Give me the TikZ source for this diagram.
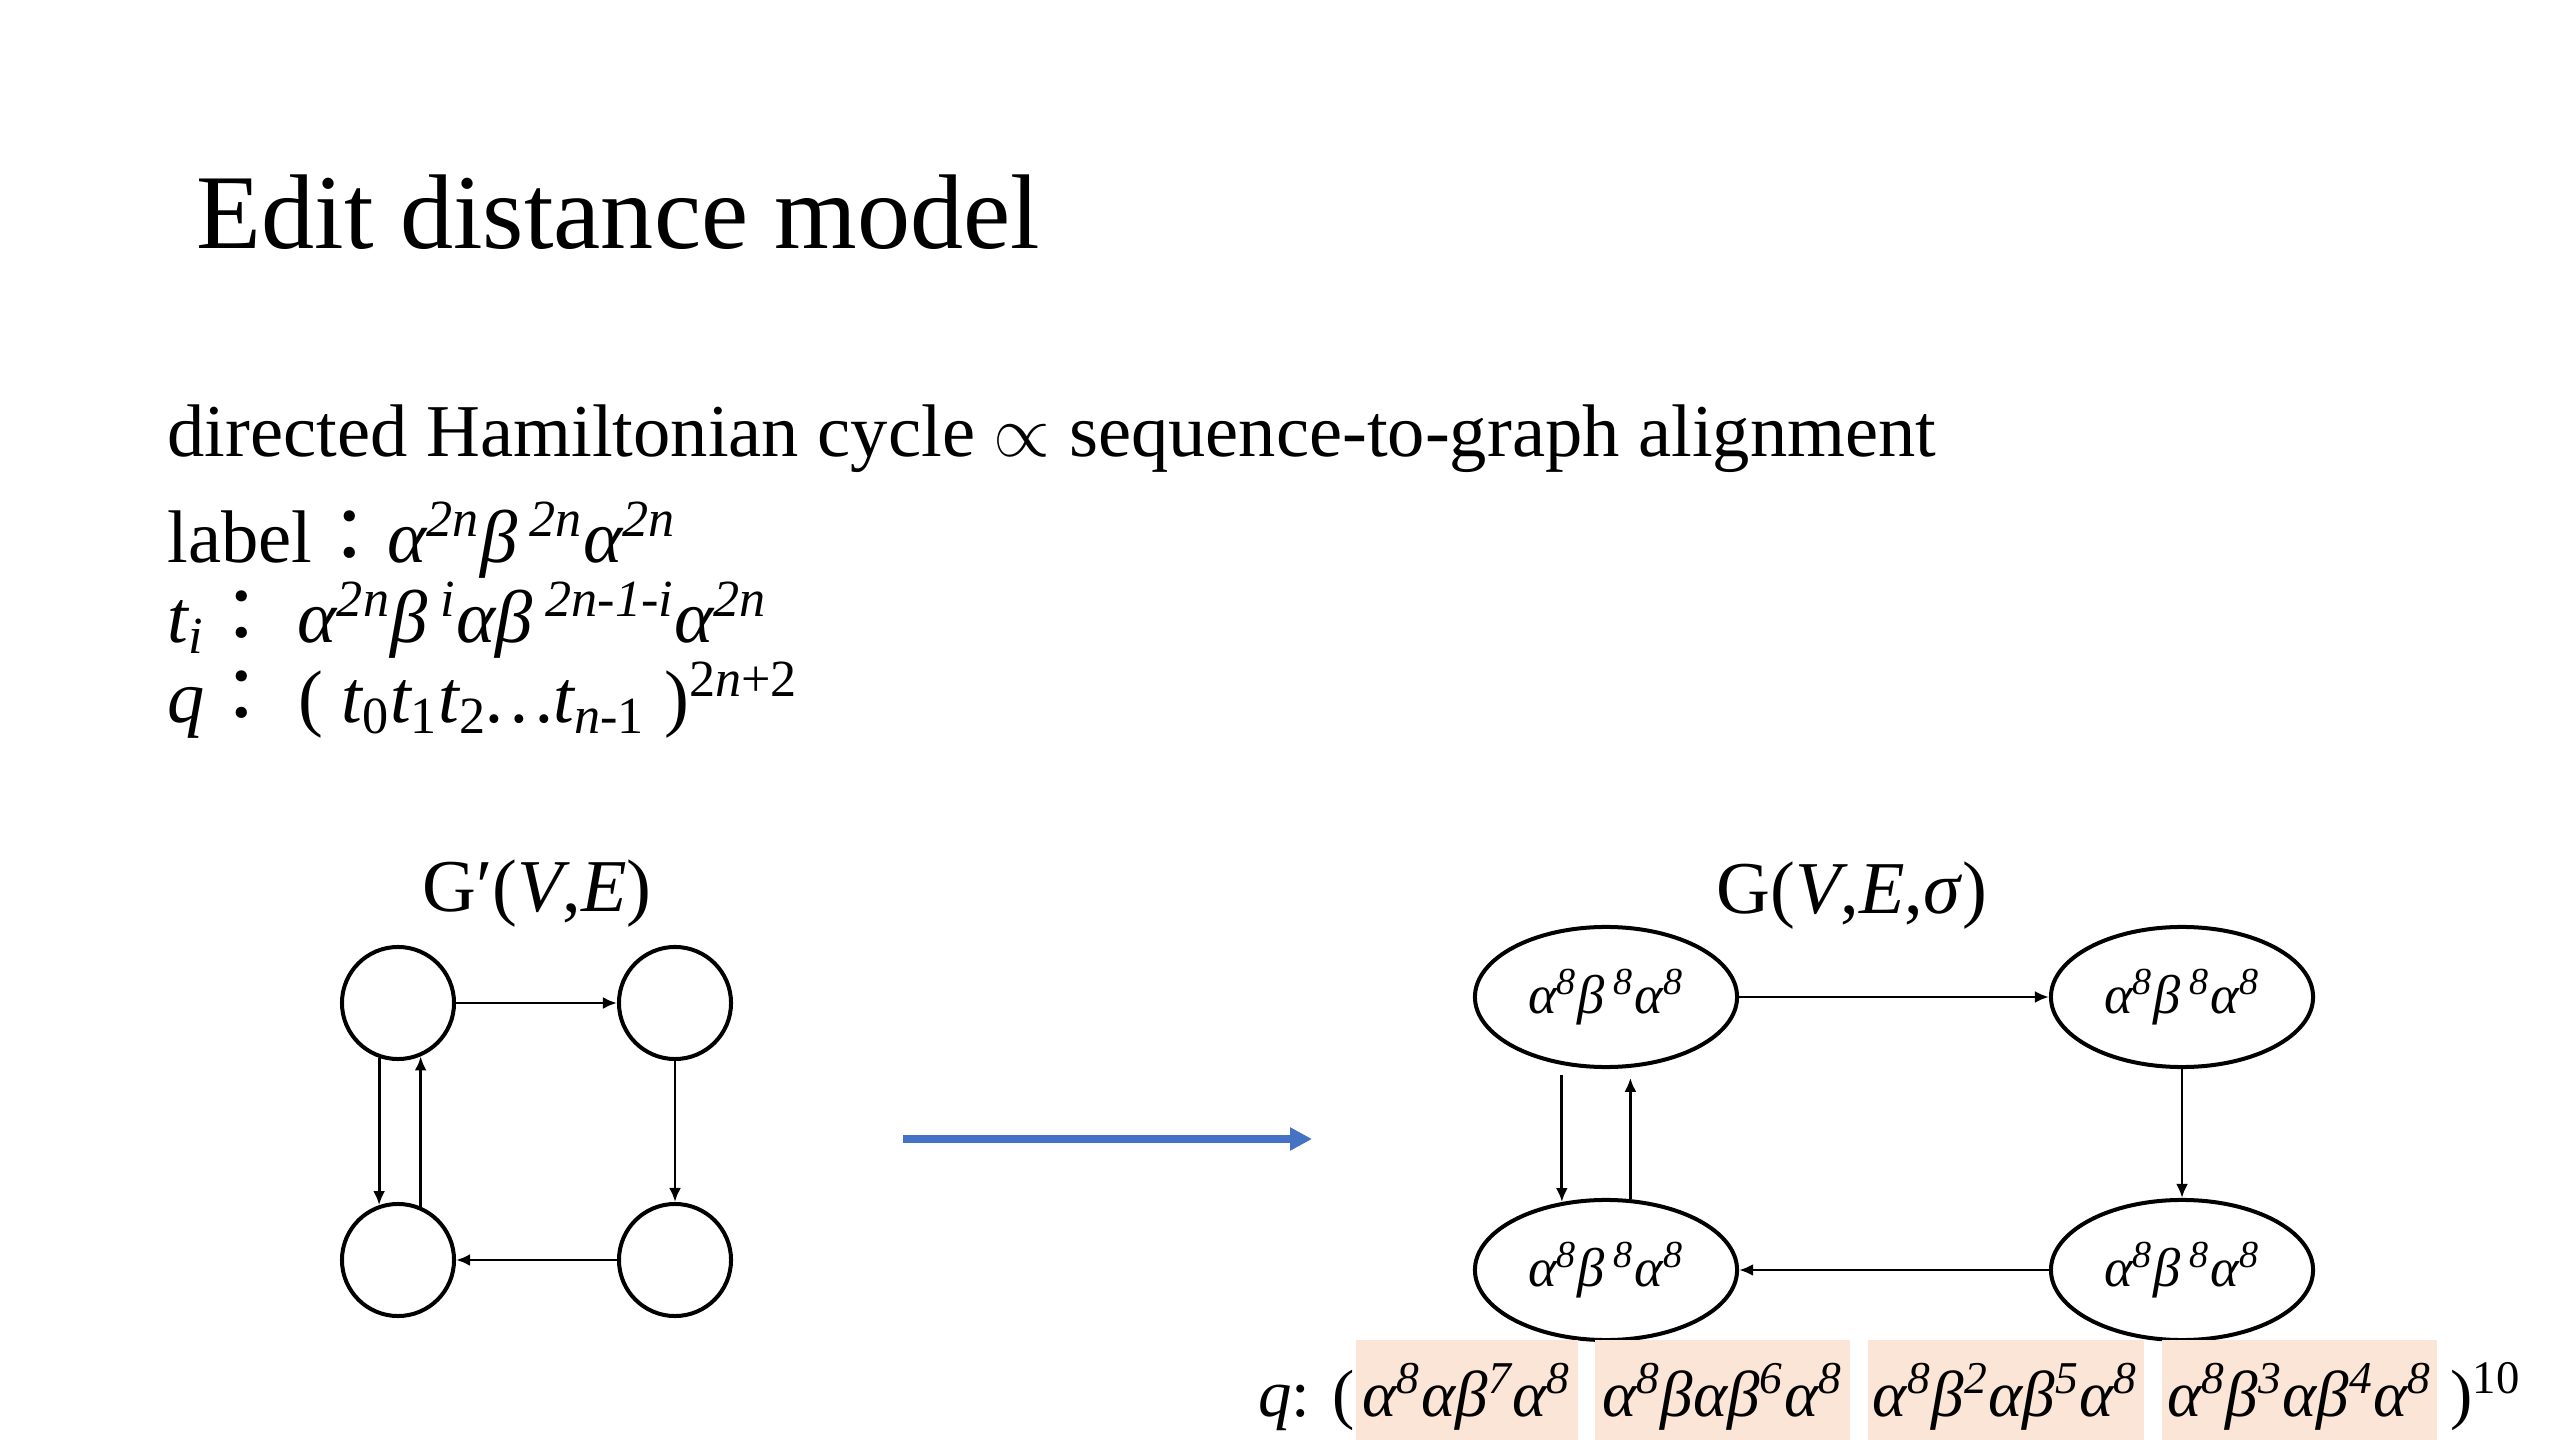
\documentclass[tikz,border=0pt]{standalone}
\usepackage{fontspec}
\setmainfont{Liberation Serif}
\newfontfamily\cjk{Noto Sans CJK TC}
\usetikzlibrary{arrows.meta,positioning,shapes.geometric}
\definecolor{slideblue}{HTML}{4472C4}
\definecolor{peach}{HTML}{FBE5D6}
\newcommand{\sps}[1]{\textsuperscript{#1}}
\newcommand{\sbs}[1]{\textsubscript{#1}}
\newcommand{\aba}{\textit{α\sps{8}β\,\sps{8}α\sps{8}}}

\begin{document}
\begin{tikzpicture}[x=0.01cm,y=-0.01cm,
  body/.style={anchor=base west,inner sep=0pt,font=\fontsize{21.2}{26}\selectfont},
  vtx/.style={circle,draw,line width=1.14pt,minimum size=1.12cm,inner sep=0pt},
  ell/.style={ellipse,draw,line width=1.14pt,minimum width=2.62cm,minimum height=1.40cm,
              inner sep=0pt,font=\fontsize{15.5}{18}\selectfont},
  arr/.style={line width=0.8pt,-{Latex[length=0.14cm,width=0.12cm]}},
  qbox/.style={fill=peach,inner xsep=0pt,text height=0.64cm,text depth=0.16cm,
               font=\fontsize{18.5}{22}\selectfont\itshape}]
  \useasboundingbox (0,0) rectangle (2560,1440);

  \node[anchor=base west,inner sep=0pt,font=\fontsize{30.2}{36}\selectfont] (title)
    at (196,249) {Edit distance model};

  \node[body] (red) at (167,457)
    {directed Hamiltonian cycle $\propto$ sequence-to-graph alignment};
  \node[body] (lbl) at (167,563)
    {label{\cjk：}\textit{α\sps{2n}β\,\sps{2n}α\sps{2n}}};
  \node[body] (tline) at (167,643)
    {\textit{t\sbs{i}}{\cjk：} \textit{α\sps{2n}β\,\sps{i}αβ\,\sps{2n-1-i}α\sps{2n}}};
  \node[body] (qline) at (167,723)
    {\textit{q}{\cjk：} ( \textit{t\sbs{\textup{0}}t\sbs{\textup{1}}t\sbs{\textup{2}}…t\sbs{n-\textup{1}}} )\sps{2\textit{n}+2}};

  % G'(V,E)
  \node[body,anchor=base] (gprime) at (537,912) {G′(\textit{V},\textit{E})};
  \node[vtx] (a1) at (398,1003) {};
  \node[vtx] (a2) at (675,1003) {};
  \node[vtx] (a3) at (675,1260) {};
  \node[vtx] (a4) at (398,1260) {};
  \draw[arr] (a1) -- (a2);
  \draw[arr] (a2) -- (a3);
  \draw[arr] (a3) -- (a4);
  \draw[arr] (a1.-109) -- (a4.109);
  \draw[arr] (a4.67) -- (a1.-67);

  \coordinate (bs) at (903,1139);
  \coordinate (be) at (1312,1139);
  \draw[slideblue,line width=2pt,-{Triangle[length=0.22cm,width=0.22cm]}] (bs) -- (be);

  % G(V,E,sigma)
  \node[body,anchor=base] (gfull) at (1852,913) {G(\textit{V},\textit{E},\textit{σ})};
  \node[ell] (b1) at (1606,997) {\aba};
  \node[ell] (b2) at (2182,997) {\aba};
  \node[ell] (b3) at (2182,1270) {\aba};
  \node[ell] (b4) at (1606,1270) {\aba};
  \draw[arr] (b1) -- (b2);
  \draw[arr] (b2) -- (b3);
  \draw[arr] (b3) -- (b4);
  \draw[arr,shorten <=0.1cm] (b1.-123) -- (b4.123);
  \draw[arr,shorten >=0.1cm] (b4.71) -- (b1.-71);

  \node[qbox,minimum width=2.21cm,anchor=base] (qb1) at (1467,1416)
    {α\sps{8}αβ\sps{7}α\sps{8}};
  \node[qbox,minimum width=2.55cm,base right=0.16cm of qb1] (qb2)
    {α\sps{8}βαβ\sps{6}α\sps{8}};
  \node[qbox,minimum width=2.76cm,base right=0.16cm of qb2] (qb3)
    {α\sps{8}β\sps{2}αβ\sps{5}α\sps{8}};
  \node[qbox,minimum width=2.75cm,base right=0.17cm of qb3] (qb4)
    {α\sps{8}β\sps{3}αβ\sps{4}α\sps{8}};
  \node[body,font=\fontsize{19}{22}\selectfont,anchor=base east] (qhead)
    at (qb1.base west) {\textit{q}: (};
  \node[body,font=\fontsize{19}{22}\selectfont,base right=0.12cm of qb4] (qtail)
    {)\sps{10}};
\end{tikzpicture}
\end{document}
